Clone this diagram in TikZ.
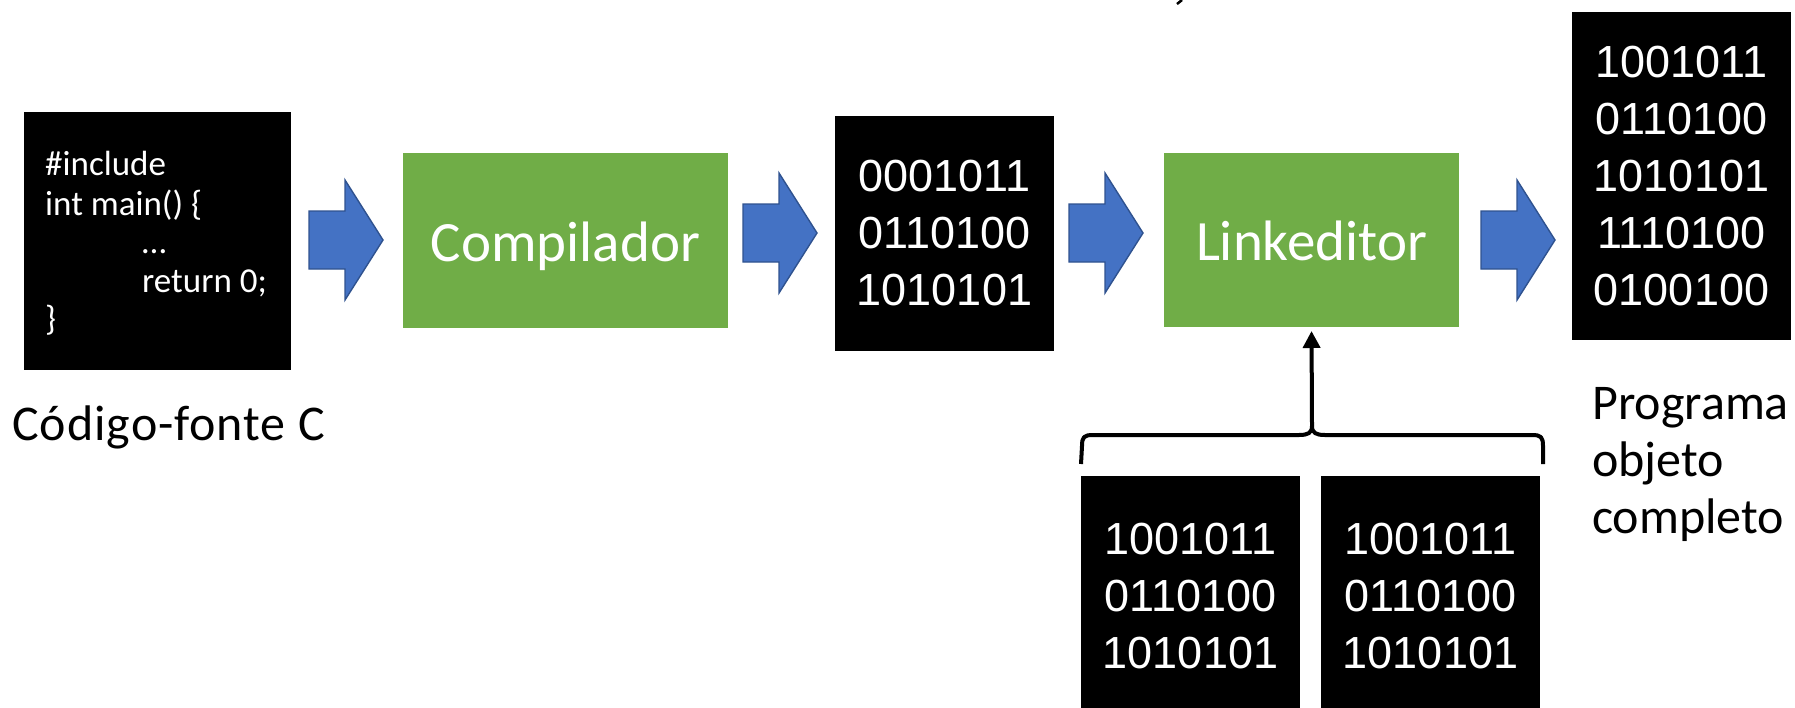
\documentclass[tikz,border=0pt]{standalone}
\usepackage{fontspec}
\setmainfont{Carlito}
\newfontfamily\binfont{Liberation Sans}
\usetikzlibrary{arrows.meta}
\definecolor{stagegreen}{HTML}{70AD47}
\definecolor{arrowblue}{HTML}{4472C4}
\definecolor{arrowedge}{HTML}{2F528F}

\begin{document}
\begin{tikzpicture}[x=1pt,y=-1pt,
  blackbox/.style={rectangle, inner sep=0pt, outer sep=0pt, fill=black},
  bits/.style={blackbox, text=white, align=center,
    font=\binfont\fontsize{45}{57}\selectfont},
  stage/.style={rectangle, inner sep=0pt, outer sep=0pt, fill=stagegreen,
    text=white, font=\fontsize{57}{68}\selectfont,
    text height=41pt, text depth=0pt},
  codeline/.style={anchor=base west, inner sep=0pt, text=white,
    font=\fontsize{35}{39}\selectfont},
  caption/.style={anchor=base west, inner sep=0pt,
    font=\fontsize{50}{54}\selectfont},
  blockarrow/.pic={
    \draw[fill=arrowblue, draw=arrowedge, line width=1.4pt, line join=miter]
      (0,-29) -- (36,-29) -- (36,-60) -- (74,0) -- (36,60) -- (36,29)
      -- (0,29) -- cycle;},
  bracestyle/.style={line width=4pt, line cap=butt, line join=round},
]
\useasboundingbox (0,0) rectangle (1795,707);
\clip (0,0) rectangle (1795,707);

% stroke of a line of text cut at the top edge
\draw[line width=2.5pt] (1182,0) -- (1177,4);

% source code
\node[blackbox, minimum width=267pt, minimum height=258pt] (code) at (157.5,241) {};
\node[codeline] (cl1) at (45,175) {\#include};
\node[codeline] (cl2) at (45,215) {int main() \{};
\node[codeline] (cl3) at (142,253) {…};
\node[codeline] (cl4) at (142,292) {return 0;};
\node[codeline] (cl5) at (45,330) {\}};
\node[caption] (codecap) at (12,440) {\addfontfeatures{LetterSpace=2}Código-fonte C};

% compiler
\node[stage, minimum width=325pt, minimum height=175pt] (comp) at (565.5,240.5) {Compilador};

% object code
\node[bits, minimum width=219pt, minimum height=235pt] (obj) at (944.5,233.5)
  {0001011\\0110100\\1010101};

% linker
\node[stage, minimum width=295pt, minimum height=174pt] (link) at (1311.5,240) {Linkeditor};

% complete program
\node[bits, minimum width=219pt, minimum height=328pt] (prog) at (1681.5,176)
  {1001011\\0110100\\1010101\\1110100\\0100100};
\node[caption] (progcap1) at (1592,419) {Programa};
\node[caption] (progcap2) at (1592,476) {objeto};
\node[caption] (progcap3) at (1592,533) {completo};

% libraries
\node[bits, minimum width=219pt, minimum height=239pt] (libA) at (1190.5,595.5)
  {1001011\\0110100\\1010101};
\node[bits, minimum width=219pt, minimum height=239pt] (libB) at (1430.5,595.5)
  {1001011\\0110100\\1010101};

% block arrows between the stages
\pic at (309,240) {blockarrow};
\pic at (743,233) {blockarrow};
\pic at (1069,233) {blockarrow};
\pic at (1481,240) {blockarrow};

% brace over the libraries and arrow into the linker
\coordinate (bracetip) at (1312,426);
\draw[bracestyle] (libA.north west |- 0,464) -- (1082,446)
  .. controls (1082,437) and (1084,435) .. (1093,435) -- (1299,435)
  .. controls (1308,435) and (1312,433) .. (bracetip)
  .. controls (1312,433) and (1316,435) .. (1325,435) -- (1532,435)
  .. controls (1541,435) and (1543,437) .. (1543,446) -- (1543,464);
\draw[line width=4pt, -{Triangle[width=17pt,length=17pt]}, shorten >=4pt]
  (bracetip) -- (link.south);
\end{tikzpicture}
\end{document}
